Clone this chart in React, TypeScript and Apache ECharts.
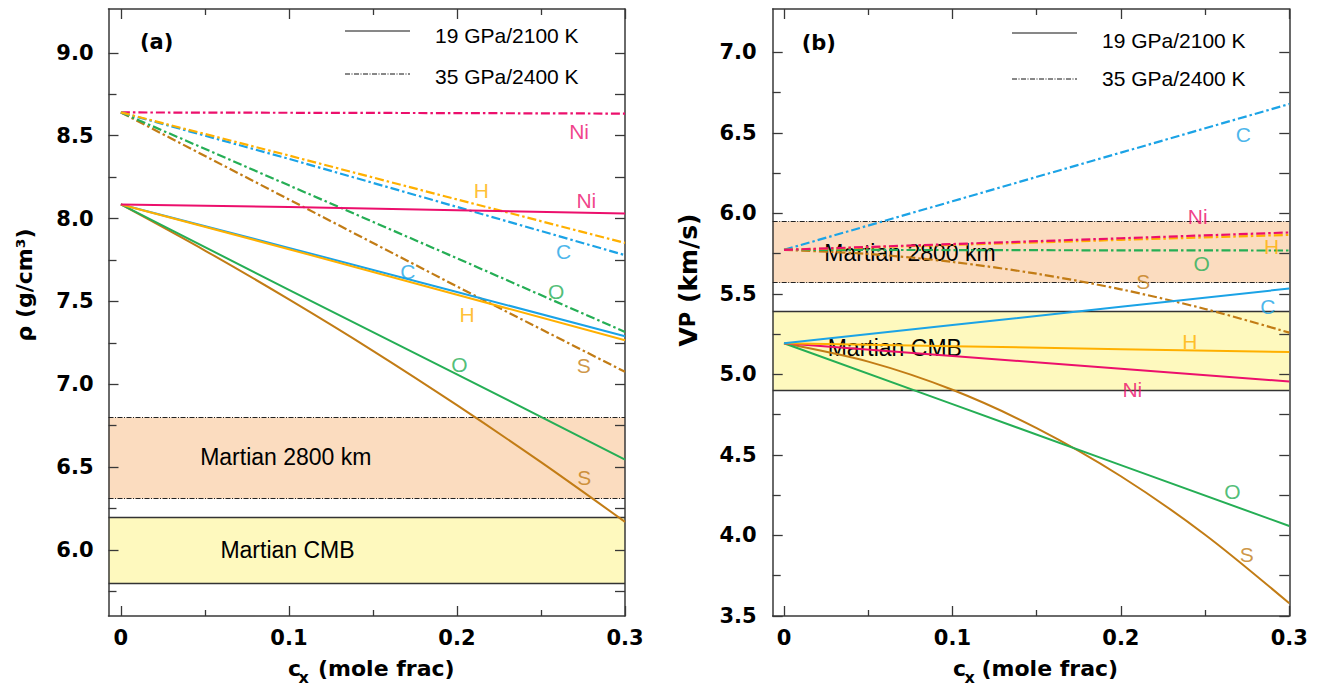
import React, { useEffect, useRef } from 'react';
import * as echarts from 'echarts';

const FONT_REG = '"Liberation Sans", Arial, sans-serif';
const FONT_BOLD = '"DejaVu Sans", "Liberation Sans", sans-serif';

const COLORS: Record<string, string> = {
  Ni: '#EC0F6C',
  H: '#FFB000',
  C: '#1BA3E6',
  O: '#25AE55',
  S: '#C27C15',
};

// ---------- Panel (a): density rho (g/cm3) vs c_x (mole frac) ----------
// 19 GPa / 2100 K (solid)
const rhoLowNi = [[0, 8.085], [0.1, 8.07], [0.2, 8.05], [0.3, 8.03]];
const rhoLowC = [[0, 8.085], [0.1, 7.823], [0.2, 7.557], [0.3, 7.29]];
const rhoLowH = [[0, 8.085], [0.1, 7.815], [0.2, 7.54], [0.3, 7.266]];
const rhoLowO = [[0, 8.085], [0.1, 7.57], [0.2, 7.06], [0.3, 6.546]];
const rhoLowS = [[0, 8.085], [0.05, 7.807], [0.1, 7.512], [0.15, 7.202], [0.2, 6.874], [0.25, 6.53], [0.3, 6.17]];
// 35 GPa / 2400 K (dash-dot)
const rhoHighNi = [[0, 8.64], [0.1, 8.638], [0.2, 8.636], [0.3, 8.633]];
const rhoHighC = [[0, 8.64], [0.1, 8.36], [0.2, 8.07], [0.3, 7.779]];
const rhoHighH = [[0, 8.64], [0.1, 8.38], [0.2, 8.115], [0.3, 7.853]];
const rhoHighO = [[0, 8.64], [0.1, 8.2], [0.2, 7.76], [0.3, 7.316]];
const rhoHighS = [[0, 8.64], [0.1, 8.115], [0.2, 7.59], [0.3, 7.075]];
// reference bands
const rhoBand2800 = [6.31, 6.8];
const rhoBandCMB = [5.8, 6.2];

// ---------- Panel (b): VP (km/s) vs c_x (mole frac) ----------
const vpLowNi = [[0, 5.194], [0.1, 5.115], [0.2, 5.035], [0.3, 4.956]];
const vpLowC = [[0, 5.194], [0.1, 5.307], [0.2, 5.42], [0.3, 5.534]];
const vpLowH = [[0, 5.194], [0.1, 5.176], [0.2, 5.157], [0.3, 5.139]];
const vpLowO = [[0, 5.194], [0.1, 4.816], [0.2, 4.437], [0.3, 4.059]];
const vpLowS = [[0, 5.194], [0.05, 5.08], [0.1, 4.905], [0.15, 4.667], [0.2, 4.368], [0.25, 4.005], [0.3, 3.579]];
const vpHighNi = [[0, 5.774], [0.1, 5.81], [0.2, 5.846], [0.3, 5.882]];
const vpHighC = [[0, 5.774], [0.1, 6.076], [0.2, 6.378], [0.3, 6.68]];
const vpHighH = [[0, 5.774], [0.1, 5.805], [0.2, 5.836], [0.3, 5.867]];
const vpHighO = [[0, 5.774], [0.1, 5.773], [0.2, 5.771], [0.3, 5.77]];
const vpHighS = [[0, 5.774], [0.05, 5.749], [0.1, 5.699], [0.15, 5.626], [0.2, 5.529], [0.25, 5.407], [0.3, 5.26]];
const vpBand2800 = [5.57, 5.95];
const vpBandCMB = [4.9, 5.39];

// ticks
const xMajorTicks = [0, 0.1, 0.2, 0.3];
const xMinorTicks = [0.05, 0.15, 0.25];
const rhoMajorTicks = [6.0, 6.5, 7.0, 7.5, 8.0, 8.5, 9.0];
const rhoMinorTicks = [5.75, 6.25, 6.75, 7.25, 7.75, 8.25, 8.75];
const vpMajorTicks = [3.5, 4.0, 4.5, 5.0, 5.5, 6.0, 6.5, 7.0];
const vpMinorTicks = [3.75, 4.25, 4.75, 5.25, 5.75, 6.25, 6.75];

// curve labels [element, x, value]
const rhoLabels: [string, number, number][] = [
  ['Ni', 0.2727, 8.522],
  ['Ni', 0.277, 8.106],
  ['H', 0.2145, 8.172],
  ['C', 0.2634, 7.8],
  ['O', 0.259, 7.558],
  ['C', 0.1708, 7.683],
  ['H', 0.206, 7.418],
  ['O', 0.2014, 7.122],
  ['S', 0.2754, 7.116],
  ['S', 0.2758, 6.439],
];
const vpLabels: [string, number, number][] = [
  ['C', 0.2727, 6.489],
  ['Ni', 0.2456, 5.981],
  ['H', 0.2895, 5.795],
  ['O', 0.248, 5.687],
  ['S', 0.2133, 5.577],
  ['C', 0.2872, 5.422],
  ['H', 0.241, 5.204],
  ['Ni', 0.2068, 4.904],
  ['O', 0.2662, 4.272],
  ['S', 0.2747, 3.883],
];

const AXIS_COLOR = '#383838';
const DASHDOT = [9, 3, 2.5, 3];
const FINE_DASHDOT = [5, 1.5, 1, 1.5];

function makeXAxes(grid: number, min: number) {
  const base: any = { type: 'value', gridIndex: grid, min, max: 0.3, splitLine: { show: false } };
  const line = { show: true, onZero: false, lineStyle: { color: AXIS_COLOR, width: 1.5 } };
  const noLine = { show: false, onZero: false };
  const tick = (vals: number[], len: number) => ({
    show: true, inside: true, length: len, customValues: vals,
    lineStyle: { color: AXIS_COLOR, width: 1.3 },
  });
  return [
    {
      ...base, position: 'bottom', axisLine: line, axisTick: tick(xMajorTicks, 10),
      axisLabel: {
        show: true, customValues: xMajorTicks, margin: 11, color: '#000',
        fontFamily: FONT_BOLD, fontWeight: 'bold', fontSize: 21,
        formatter: (v: number) => (v === 0 ? '0' : v.toFixed(1)),
      },
    },
    { ...base, position: 'bottom', axisLine: noLine, axisTick: tick(xMinorTicks, 6), axisLabel: { show: false } },
    { ...base, position: 'top', axisLine: line, axisTick: tick(xMajorTicks, 10), axisLabel: { show: false } },
    { ...base, position: 'top', axisLine: noLine, axisTick: tick(xMinorTicks, 6), axisLabel: { show: false } },
  ];
}

function makeYAxes(grid: number, min: number, max: number, major: number[], minor: number[], margin: number) {
  const base: any = { type: 'value', gridIndex: grid, min, max, splitLine: { show: false } };
  const line = { show: true, onZero: false, lineStyle: { color: AXIS_COLOR, width: 1.5 } };
  const noLine = { show: false, onZero: false };
  const tick = (vals: number[], len: number) => ({
    show: true, inside: true, length: len, customValues: vals,
    lineStyle: { color: AXIS_COLOR, width: 1.3 },
  });
  return [
    {
      ...base, position: 'left', axisLine: line, axisTick: tick(major, 10),
      axisLabel: {
        show: true, customValues: major, margin, color: '#000',
        fontFamily: FONT_BOLD, fontWeight: 'bold', fontSize: 21,
        formatter: (v: number) => v.toFixed(1),
      },
    },
    { ...base, position: 'left', axisLine: noLine, axisTick: tick(minor, 8), axisLabel: { show: false } },
    { ...base, position: 'right', axisLine: line, axisTick: tick([...major, ...minor], 10), axisLabel: { show: false } },
  ];
}

function lineSeries(data: number[][], el: string, dashed: boolean, xi: number, yi: number, curved = false) {
  return {
    type: 'line', data, xAxisIndex: xi, yAxisIndex: yi, symbol: 'none', showSymbol: false,
    smooth: curved ? 0.3 : false, silent: true, z: 3,
    lineStyle: { color: COLORS[el], width: dashed ? 2.2 : 2, type: dashed ? DASHDOT : 'solid', join: 'round' },
  };
}

function bandSeries(b2800: number[], bCMB: number[], xi: number, yi: number) {
  return {
    type: 'line', data: [], xAxisIndex: xi, yAxisIndex: yi, silent: true, z: 0,
    markArea: {
      silent: true, z: 0,
      data: [
        [{ yAxis: b2800[0], itemStyle: { color: '#FBDCBF' } }, { yAxis: b2800[1] }],
        [{ yAxis: bCMB[0], itemStyle: { color: '#FEF9BE' } }, { yAxis: bCMB[1] }],
      ],
    },
    markLine: {
      silent: true, z: 1, symbol: ['none', 'none'], label: { show: false },
      data: [
        { yAxis: b2800[0], lineStyle: { color: '#222', width: 1, type: FINE_DASHDOT } },
        { yAxis: b2800[1], lineStyle: { color: '#222', width: 1, type: FINE_DASHDOT } },
        { yAxis: bCMB[0], lineStyle: { color: '#333', width: 1.3, type: 'solid' } },
        { yAxis: bCMB[1], lineStyle: { color: '#333', width: 1.3, type: 'solid' } },
      ],
    },
  };
}

function labelSeries(labels: [string, number, number][], xi: number, yi: number) {
  return {
    type: 'scatter', xAxisIndex: xi, yAxisIndex: yi, symbolSize: 1, silent: true, z: 5,
    itemStyle: { color: 'rgba(0,0,0,0)' },
    label: { show: true, position: 'inside', fontSize: 21, fontFamily: FONT_REG },
    data: labels.map(([el, x, y]) => ({
      value: [x, y],
      label: { show: true, formatter: el, color: COLORS[el] },
    })),
  };
}

function txt(text: string, x: number, y: number, opts: any = {}) {
  const { z = 10, rotation = 0, ...style } = opts;
  return {
    type: 'text', x, y, rotation, z, silent: true,
    style: { text, fill: '#000', fontFamily: FONT_REG, fontSize: 21, align: 'left', verticalAlign: 'middle', ...style },
  };
}

function hline(x1: number, x2: number, y: number, dash: any) {
  return {
    type: 'line', z: 10, silent: true,
    shape: { x1, y1: y, x2, y2: y },
    style: { stroke: '#111', lineWidth: 1, lineDash: dash },
  };
}

export default function App() {
  const ref = useRef<HTMLDivElement>(null);
  useEffect(() => {
    document.body.style.margin = '0';
    const chart = echarts.init(ref.current!, null, { renderer: 'svg', width: 1324, height: 688 });
    const xAxes = [...makeXAxes(0, -0.00738), ...makeXAxes(1, -0.00671)];
    const yAxes = [
      ...makeYAxes(0, 5.602, 9.264, rhoMajorTicks, rhoMinorTicks, 15),
      ...makeYAxes(1, 3.5, 7.27, vpMajorTicks, vpMinorTicks, 16),
    ];
    const boldTitle = { fontFamily: FONT_BOLD, fontWeight: 'bold', fontSize: 22 };
    const option: any = {
      animation: false,
      backgroundColor: '#fff',
      grid: [
        { left: 108.5, top: 9, width: 516.5, height: 607, containLabel: false, outerBoundsMode: 'none' },
        { left: 772.7, top: 9, width: 516.6, height: 607, containLabel: false, outerBoundsMode: 'none' },
      ],
      xAxis: xAxes,
      yAxis: yAxes,
      series: [
        bandSeries(rhoBand2800, rhoBandCMB, 0, 0),
        lineSeries(rhoHighNi, 'Ni', true, 0, 0),
        lineSeries(rhoHighS, 'S', true, 0, 0),
        lineSeries(rhoHighO, 'O', true, 0, 0),
        lineSeries(rhoHighC, 'C', true, 0, 0),
        lineSeries(rhoHighH, 'H', true, 0, 0),
        lineSeries(rhoLowS, 'S', false, 0, 0, true),
        lineSeries(rhoLowO, 'O', false, 0, 0),
        lineSeries(rhoLowC, 'C', false, 0, 0),
        lineSeries(rhoLowH, 'H', false, 0, 0),
        lineSeries(rhoLowNi, 'Ni', false, 0, 0),
        labelSeries(rhoLabels, 0, 0),

        bandSeries(vpBand2800, vpBandCMB, 4, 3),
        lineSeries(vpHighC, 'C', true, 4, 3),
        lineSeries(vpHighS, 'S', true, 4, 3, true),
        lineSeries(vpHighO, 'O', true, 4, 3),
        lineSeries(vpHighH, 'H', true, 4, 3),
        lineSeries(vpHighNi, 'Ni', true, 4, 3),
        lineSeries(vpLowS, 'S', false, 4, 3, true),
        lineSeries(vpLowO, 'O', false, 4, 3),
        lineSeries(vpLowNi, 'Ni', false, 4, 3),
        lineSeries(vpLowH, 'H', false, 4, 3),
        lineSeries(vpLowC, 'C', false, 4, 3),
        labelSeries(vpLabels, 4, 3),
      ],
      graphic: [
        // panel tags
        txt('(a)', 140, 41.5, { ...boldTitle, fontSize: 21 }),
        txt('(b)', 801.7, 42.5, { ...boldTitle, fontSize: 21 }),
        // legends
        hline(345, 410, 31, null),
        hline(345, 410, 74, FINE_DASHDOT),
        txt('19 GPa/2100 K', 435, 35.5),
        txt('35 GPa/2400 K', 435, 76),
        hline(1012, 1077, 33, null),
        hline(1012, 1077, 79, FINE_DASHDOT),
        txt('19 GPa/2100 K', 1102, 40),
        txt('35 GPa/2400 K', 1102, 78),
        // band labels
        txt('Martian 2800 km', 285.8, 456.7, { align: 'center', fontSize: 23, z: 1 }),
        txt('Martian CMB', 287.5, 550, { align: 'center', fontSize: 23, z: 1 }),
        txt('Martian 2800 km', 824.3, 253.3, { fontSize: 23, z: 1 }),
        txt('Martian CMB', 827.7, 348.3, { fontSize: 23, z: 1 }),
        // x axis titles
        txt('c', 288, 668, boldTitle),
        txt('x', 298.5, 677, { ...boldTitle, fontSize: 16 }),
        txt('(mole frac)', 318, 668, boldTitle),
        txt('c', 953, 668, boldTitle),
        txt('x', 964.5, 677, { ...boldTitle, fontSize: 16 }),
        txt('(mole frac)', 981.5, 668, boldTitle),
        // y axis titles
        txt('ρ (g/cm³)', 24, 285, { ...boldTitle, align: 'center', rotation: Math.PI / 2 }),
        {
          type: 'text', x: 688, y: 280, rotation: Math.PI / 2, z: 10, silent: true,
          style: {
            text: '{v|V}{p|P}{r| (km/s)}', align: 'center', verticalAlign: 'middle', fill: '#000',
            rich: {
              v: { fontFamily: FONT_BOLD, fontWeight: 'bold', fontSize: 25, fill: '#000' },
              p: { fontFamily: FONT_BOLD, fontWeight: 'bold', fontSize: 21, fill: '#000' },
              r: { fontFamily: FONT_BOLD, fontWeight: 'bold', fontSize: 25, fill: '#000' },
            },
          },
        },
      ],
    };
    chart.setOption(option);
    return () => chart.dispose();
  }, []);
  return <div ref={ref} style={{ width: 1324, height: 688 }} />;
}
